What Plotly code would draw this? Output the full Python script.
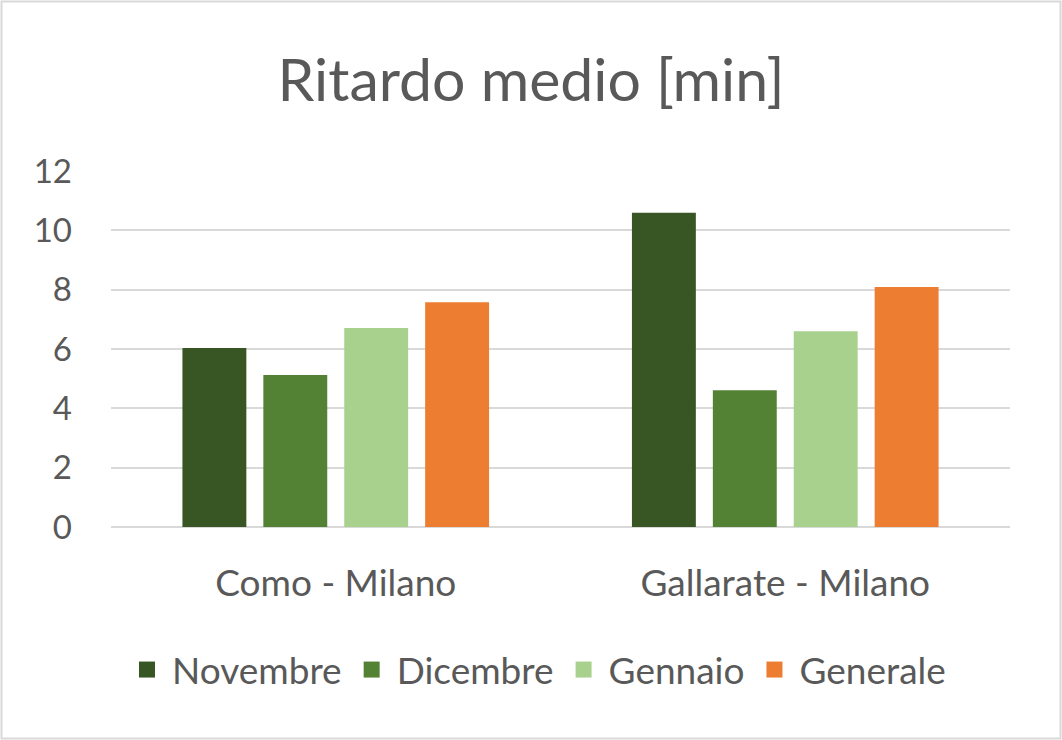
import plotly.graph_objects as go

categories = ["Como - Milano", "Gallarate - Milano"]
series_names = ["Novembre", "Dicembre", "Gennaio", "Generale"]
novembre = [6.03, 10.59]
dicembre = [5.12, 4.61]
gennaio = [6.71, 6.60]
generale = [7.58, 8.09]
y_ticks = [0, 2, 4, 6, 8, 10, 12]

colors = ["#375623", "#548235", "#a9d18e", "#ed7d31"]
values = [novembre, dicembre, gennaio, generale]

W, H = 1062, 740
L, R, T, B = 111, 52, 171, 213
pw, ph = W - L - R, H - T - B

fig = go.Figure()
for name, vals, c in zip(series_names, values, colors):
    fig.add_trace(go.Bar(x=categories, y=vals, name=name, marker=dict(color=c, line=dict(width=0)),
                         showlegend=False, legendgroup=name))
for name, c in zip(series_names, colors):
    fig.add_trace(go.Scatter(x=[None], y=[None], mode="markers", name=name, legendgroup=name,
                             marker=dict(symbol="square", size=20, color=c), showlegend=True))

font = "Lato, Open Sans, sans-serif"
fig.update_layout(
    width=W, height=H,
    margin=dict(l=L, r=R, t=T, b=B),
    paper_bgcolor="white", plot_bgcolor="white",
    barmode="group", bargap=0.28, bargroupgap=0.21,
    title=dict(text="Ritardo medio [min]", x=0.5, xanchor="center", y=1 - 80 / H, yanchor="middle",
               font=dict(family=font, size=59, color="#595959")),
    font=dict(family=font, color="#595959"),
    xaxis=dict(type="category", showgrid=False, showline=False, ticks="",
               tickfont=dict(size=37, color="#595959"), ticklabelstandoff=31),
    yaxis=dict(range=[0, 12], tickvals=y_ticks, showgrid=True, gridcolor="#d9d9d9", gridwidth=1.6,
               zeroline=True, zerolinecolor="#d9d9d9", zerolinewidth=1.6,
               tickfont=dict(size=33, color="#595959"), ticklabelstandoff=38, fixedrange=True),
    legend=dict(orientation="h", x=0.5 - 24 / pw, xanchor="center", y=(527 - 670) / ph, yanchor="middle",
                font=dict(size=37, color="#595959"), itemwidth=40, traceorder="normal"),
    shapes=[dict(type="rect", xref="paper", yref="paper",
                 x0=-(L - 1.5) / pw, x1=1 + (R - 1.5) / pw, y0=-(B - 1.5) / ph, y1=1 + (T - 1.5) / ph,
                 line=dict(color="#d9d9d9", width=2), fillcolor="rgba(0,0,0,0)", layer="below")],
)

fig.write_html("out.html", config={"displayModeBar": False},
               post_script="document.body.style.margin='0';document.body.style.overflow='hidden';")
